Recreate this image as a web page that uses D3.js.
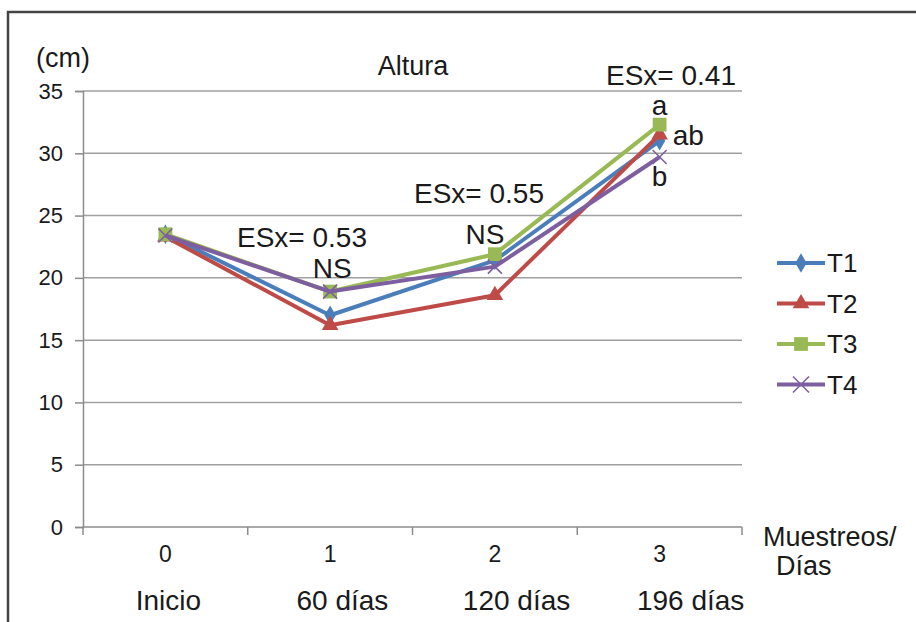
<!DOCTYPE html>
<html>
<head>
<meta charset="utf-8">
<script src="https://cdn.jsdelivr.net/npm/d3@7"></script>
<style>
  body { margin: 0; background: #fff; }
  text { fill: #1a1a1a; font-family: "Liberation Sans", Arial, sans-serif; }
</style>
</head>
<body>
<div id="chart"></div>
<script>
(function() {
  var width = 916,
      height = 622;

  // data
  var samples = ["0", "1", "2", "3"];
  var dayLabels = ["Inicio", "60 días", "120 días", "196 días"];
  var seriesNames = ["T1", "T2", "T3", "T4"];
  var T1 = [23.5, 17.0, 21.4, 31.0];
  var T2 = [23.3, 16.2, 18.6, 31.5];
  var T3 = [23.5, 18.9, 21.9, 32.3];
  var T4 = [23.4, 18.9, 20.9, 29.7];
  var yTicks = [0, 5, 10, 15, 20, 25, 30, 35];
  var esx = ["ESx= 0.53", "ESx= 0.55", "ESx= 0.41"];

  var colors = ["#4a7ebb", "#be4b48", "#98b954", "#7d5fa0"];
  var shapes = [d3.symbolDiamond, d3.symbolTriangle, d3.symbolSquare, null];
  var sizes = [110, 120, 190, 0];

  var margin = {left: 83, right: 174, top: 91, bottom: 95};

  var svg = d3.select("#chart")
    .append("svg")
    .attr("width", width)
    .attr("height", height);

  // outer frame
  svg.append("path")
    .attr("d", "M8," + height + " V12 H" + width)
    .attr("fill", "none")
    .attr("stroke", "#444")
    .attr("stroke-width", 2.5);

  var x = d3.scaleBand()
    .domain(samples)
    .range([margin.left, width - margin.right]);

  var y = d3.scaleLinear()
    .domain([0, 35])
    .range([height - margin.bottom, margin.top]);

  var cx = function(i) { return x(samples[i]) + x.bandwidth() / 2; };

  // gridlines
  svg.append("g")
    .selectAll("line")
    .data(yTicks.slice(1))
    .enter().append("line")
    .attr("x1", margin.left)
    .attr("x2", width - margin.right)
    .attr("y1", function(d) { return y(d); })
    .attr("y2", function(d) { return y(d); })
    .attr("stroke", "#a0a0a0")
    .attr("stroke-width", 1.5);

  // y axis
  var yAxis = svg.append("g")
    .attr("transform", "translate(" + margin.left + ",0)")
    .call(d3.axisLeft(y).tickValues(yTicks).tickSize(8).tickPadding(12));
  yAxis.select(".domain").attr("stroke", "#8c8c8c").attr("stroke-width", 1.5);
  yAxis.selectAll(".tick line").attr("stroke", "#8c8c8c").attr("stroke-width", 1.5);
  yAxis.selectAll(".tick text")
    .style("font-family", "'Liberation Sans', Arial, sans-serif")
    .style("font-size", "22px")
    .attr("fill", "#1a1a1a");

  // x axis: ticks between categories
  var bounds = samples.map(function(d) { return x(d); }).concat([x.range()[1]]);
  svg.append("line")
    .attr("x1", margin.left)
    .attr("x2", width - margin.right)
    .attr("y1", y(0))
    .attr("y2", y(0))
    .attr("stroke", "#8c8c8c")
    .attr("stroke-width", 1.5);
  svg.append("g")
    .selectAll("line")
    .data(bounds)
    .enter().append("line")
    .attr("x1", function(d) { return d; })
    .attr("x2", function(d) { return d; })
    .attr("y1", y(0))
    .attr("y2", y(0) + 8)
    .attr("stroke", "#8c8c8c")
    .attr("stroke-width", 1.5);

  svg.append("g")
    .selectAll("text")
    .data(samples)
    .enter().append("text")
    .attr("x", function(d, i) { return cx(i); })
    .attr("y", y(0) + 35)
    .attr("text-anchor", "middle")
    .style("font-size", "23px")
    .text(function(d) { return d; });

  // day labels row
  var xd = d3.scalePoint()
    .domain(dayLabels)
    .range([cx(0) + 3, cx(3) + 31]);
  svg.append("g")
    .selectAll("text")
    .data(dayLabels)
    .enter().append("text")
    .attr("x", function(d) { return xd(d); })
    .attr("y", y(0) + 83)
    .attr("text-anchor", "middle")
    .style("font-size", "28px")
    .text(function(d) { return d; });

  // axis titles
  svg.append("text")
    .attr("x", 36)
    .attr("y", 67)
    .style("font-size", "27px")
    .text("(cm)");
  svg.append("text")
    .attr("x", 413)
    .attr("y", 75)
    .attr("text-anchor", "middle")
    .style("font-size", "27px")
    .text("Altura");
  svg.append("text")
    .attr("x", 763)
    .attr("y", y(0) + 19)
    .style("font-size", "27px")
    .text("Muestreos/");
  svg.append("text")
    .attr("x", 776)
    .attr("y", y(0) + 48)
    .style("font-size", "27px")
    .text("Días");

  // series
  var all = [T1, T2, T3, T4];
  var line = d3.line()
    .x(function(d, i) { return cx(i); })
    .y(function(d) { return y(d); });

  function marker(g, k, px, py, r) {
    if (k === 3) {
      g.append("path")
        .attr("transform", "translate(" + px + "," + py + ")")
        .attr("d", "M-" + r + ",-" + r + "L" + r + "," + r + "M-" + r + "," + r + "L" + r + ",-" + r)
        .attr("stroke", colors[k])
        .attr("stroke-width", 1.6);
    } else {
      g.append("path")
        .attr("transform", "translate(" + px + "," + py + ")")
        .attr("d", d3.symbol().type(shapes[k]).size(sizes[k]))
        .attr("fill", colors[k]);
    }
  }

  all.forEach(function(vals, k) {
    var g = svg.append("g");
    g.append("path")
      .attr("d", line(vals))
      .attr("fill", "none")
      .attr("stroke", colors[k])
      .attr("stroke-width", 4)
      .attr("stroke-linejoin", "round");
    vals.forEach(function(v, i) { marker(g, k, cx(i), y(v), 7); });
  });

  // annotations
  var esxPos = [[302, 247], [479, 203], [671, 85]];
  esx.forEach(function(t, i) {
    svg.append("text")
      .attr("x", esxPos[i][0])
      .attr("y", esxPos[i][1])
      .attr("text-anchor", "middle")
      .style("font-size", "28px")
      .text(t);
  });
  svg.append("text").attr("x", cx(1) + 2).attr("y", 278)
    .attr("text-anchor", "middle").style("font-size", "28px").text("NS");
  svg.append("text").attr("x", cx(2) - 10).attr("y", 244)
    .attr("text-anchor", "middle").style("font-size", "28px").text("NS");
  svg.append("text").attr("x", cx(3)).attr("y", 115)
    .attr("text-anchor", "middle").style("font-size", "28px").text("a");
  svg.append("text").attr("x", cx(3) + 13).attr("y", 145)
    .style("font-size", "28px").text("ab");
  svg.append("text").attr("x", cx(3)).attr("y", 186)
    .attr("text-anchor", "middle").style("font-size", "28px").text("b");

  // legend
  var leg = svg.append("g").attr("transform", "translate(777,263)");
  seriesNames.forEach(function(n, k) {
    var gy = k * 40.5;
    leg.append("line")
      .attr("x1", 0).attr("x2", 48)
      .attr("y1", gy).attr("y2", gy)
      .attr("stroke", colors[k])
      .attr("stroke-width", 4);
    marker(leg, k, 24, gy, 8);
    leg.append("text")
      .attr("x", 50)
      .attr("y", gy + 9)
      .style("font-size", "26px")
      .text(n);
  });
})();
</script>
</body>
</html>
